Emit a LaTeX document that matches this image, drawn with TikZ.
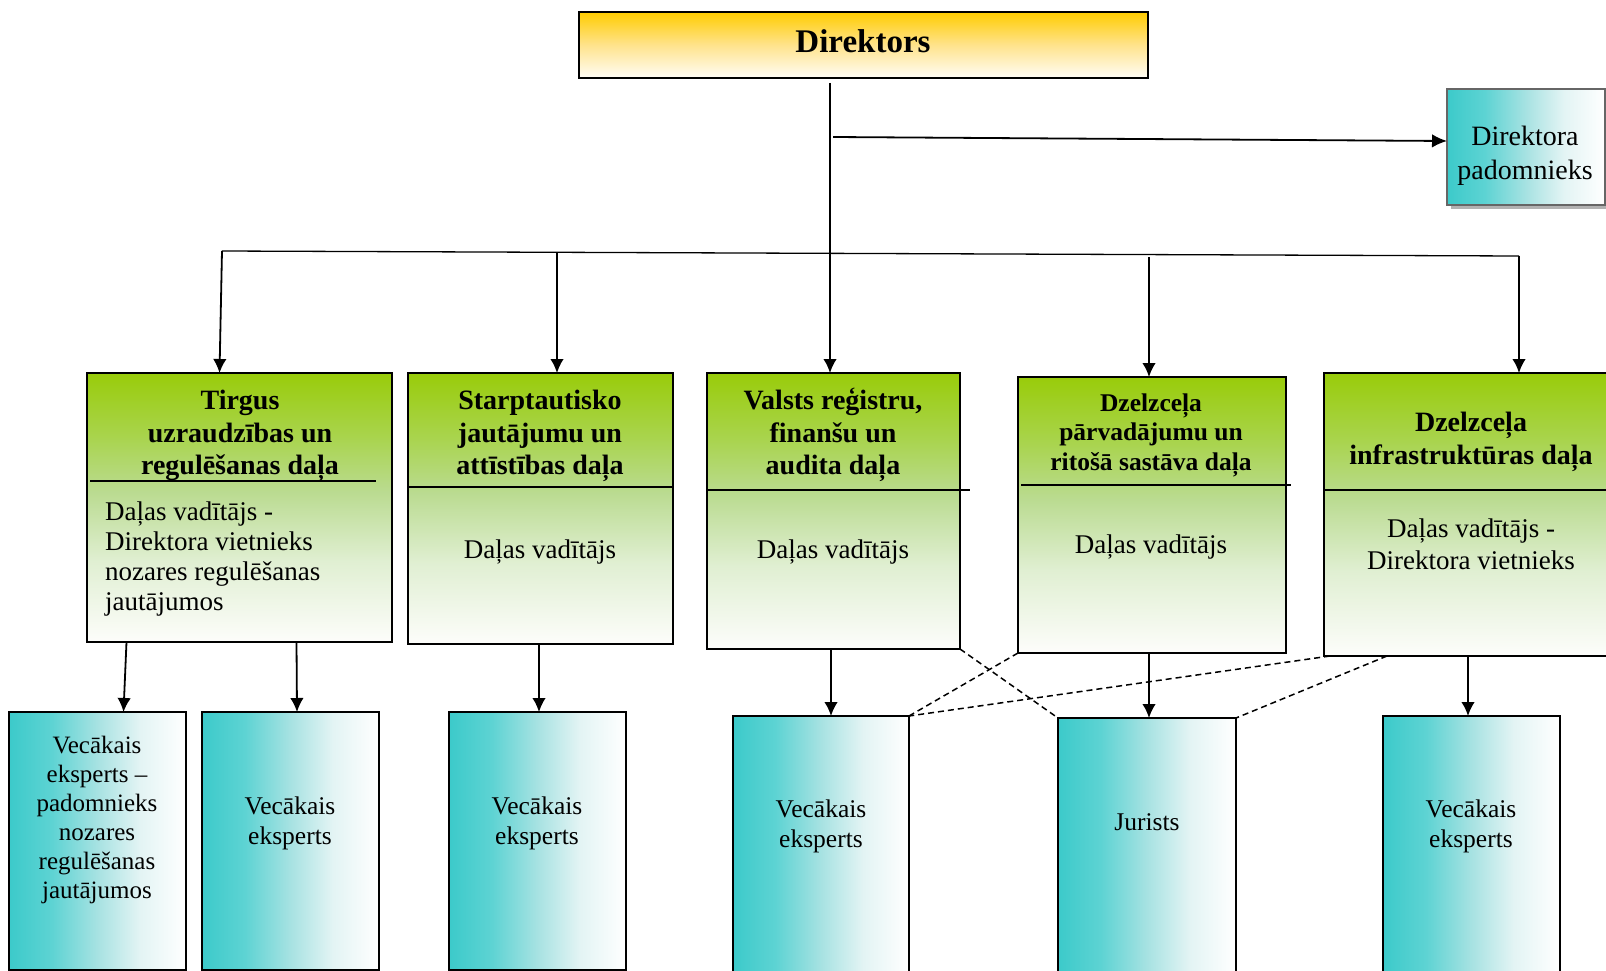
\documentclass[tikz,border=0pt]{standalone}
\usepackage{fontspec}
\setmainfont{Liberation Serif}
\usetikzlibrary{arrows.meta,calc}
\definecolor{gtop}{HTML}{99CC0A}
\definecolor{gup}{HTML}{A9D44E}
\definecolor{gdiv}{HTML}{BADB90}
\definecolor{gmid}{HTML}{E0EFD2}
\definecolor{gbot}{HTML}{FDFDFB}
\definecolor{ytop}{HTML}{FFCC00}
\definecolor{ymid}{HTML}{FFE38C}
\definecolor{ybot}{HTML}{FFFDF6}
\definecolor{c0}{HTML}{3CCACA}
\definecolor{c1}{HTML}{5DD3D3}
\definecolor{c2}{HTML}{A7E2E2}
\definecolor{c3}{HTML}{E3F4F4}
\pgfdeclareverticalshading{gshade}{100bp}{color(0bp)=(gbot); color(25bp)=(gbot); color(40bp)=(gmid); color(53bp)=(gdiv); color(63bp)=(gup); color(75bp)=(gtop); color(100bp)=(gtop)}
\pgfdeclareverticalshading{yshade}{100bp}{color(0bp)=(ybot); color(25bp)=(ybot); color(50bp)=(ymid); color(75bp)=(ytop); color(100bp)=(ytop)}
\pgfdeclarehorizontalshading{cshade}{100bp}{color(0bp)=(c0); color(25bp)=(c0); color(37bp)=(c1); color(50bp)=(c2); color(62bp)=(c3); color(75bp)=(white); color(100bp)=(white)}
\tikzset{
  box/.style={draw=black, line width=1.8pt, inner sep=0pt, outer sep=0pt, anchor=north west},
  gbox/.style={box, shading=gshade},
  txt/.style={inner sep=0pt, align=center, font=\fontsize{27}{30}\selectfont},
  ttl/.style={inner sep=0pt, align=center, font=\bfseries\fontsize{28}{32.5}\selectfont},
  etxt/.style={inner sep=0pt, align=center, font=\fontsize{25.5}{30}\selectfont},
  arr/.style={line width=1.8pt, -{Latex[length=14pt,width=13.5pt]}},
  dsh/.style={line width=1.5pt, dash pattern=on 6pt off 4pt},
}
\begin{document}
\begin{tikzpicture}[x=1pt,y=-1pt]
\useasboundingbox (0,0) rectangle (1606,971);
% top
\node[box, shading=yshade, minimum width=569pt, minimum height=66pt] (dir) at (579,12) {};
\node[ttl, font=\bfseries\fontsize{33}{36}\selectfont] (dirt) at (863,41) {Direktors};
\fill[gray!60] (1451,93) rectangle (1609,209);
\node[box, shading=cshade, draw=gray!80!black, line width=1.5pt, minimum width=158pt, minimum height=116pt] (pad) at (1447,89) {};
\node[txt, font=\fontsize{28}{34}\selectfont] (padt) at (1525,156) {Direktora\\padomnieks};
% departments
\node[gbox, minimum width=305pt, minimum height=269pt] (t1) at (87,373) {};
\node[gbox, minimum width=265pt, minimum height=271pt] (t2) at (408,373) {};
\node[gbox, minimum width=253pt, minimum height=276pt] (t3) at (707,373) {};
\node[gbox, minimum width=268pt, minimum height=276pt] (t4) at (1018,377) {};
\node[gbox, minimum width=300pt, minimum height=283pt] (t5) at (1324,373) {};
\draw[line width=1.8pt] (90,481) -- (376,481);
\draw[line width=1.8pt] (408,487) -- (673,487);
\draw[line width=1.8pt] (707,490) -- (970,490);
\draw[line width=1.8pt] (1021,485) -- (1291,485);
\draw[line width=1.8pt] (1324,490) -- (1615,490);
\node[ttl] (t1t) at (240,436) {Tirgus\\uzraudzības un\\regulēšanas daļa};
\node[txt, align=left, anchor=west] (t1b) at (105,559) {Daļas vadītājs -\\Direktora vietnieks\\nozares regulēšanas\\jautājumos};
\node[ttl] (t2t) at (540,436) {Starptautisko\\jautājumu un\\attīstības daļa};
\node[txt] (t2b) at (540,552) {Daļas vadītājs};
\node[ttl] (t3t) at (833,435) {Valsts reģistru,\\finanšu un\\audita daļa};
\node[txt] (t3b) at (833,552) {Daļas vadītājs};
\node[ttl, font=\bfseries\fontsize{25.5}{29.5}\selectfont] (t4t) at (1151,435) {Dzelzceļa\\pārvadājumu un\\ritošā sastāva daļa};
\node[txt] (t4b) at (1151,547) {Daļas vadītājs};
\node[ttl] (t5t) at (1471,442) {Dzelzceļa\\infrastruktūras daļa};
\node[txt, font=\fontsize{27}{32}\selectfont] (t5b) at (1471,544) {Daļas vadītājs -\\Direktora vietnieks};
% experts
\node[box, shading=cshade, minimum width=177pt, minimum height=258pt] (e1) at (9,712) {};
\node[box, shading=cshade, minimum width=177pt, minimum height=258pt] (e2) at (202,712) {};
\node[box, shading=cshade, minimum width=177pt, minimum height=258pt] (e3) at (449,712) {};
\node[box, shading=cshade, minimum width=176pt, minimum height=280pt] (e4) at (733,716) {};
\node[box, shading=cshade, minimum width=178pt, minimum height=280pt] (jur) at (1058,718) {};
\node[box, shading=cshade, minimum width=177pt, minimum height=280pt] (e5) at (1383,716) {};
\node[etxt, font=\fontsize{25}{29}\selectfont] (e1t) at (97,820) {Vecākais\\eksperts –\\padomnieks\\nozares\\regulēšanas\\jautājumos};
\node[etxt] (e2t) at (290,823) {Vecākais\\eksperts};
\node[etxt] (e3t) at (537,823) {Vecākais\\eksperts};
\node[etxt] (e4t) at (821,826) {Vecākais\\eksperts};
\node[etxt] (jurt) at (1147,822) {Jurists};
\node[etxt] (e5t) at (1471,826) {Vecākais\\eksperts};
% connectors
\coordinate (d0) at (830,83);
\coordinate (p0) at (833,137);
\coordinate (bL) at (222,251);
\coordinate (bR) at (1519,256);
\coordinate (bB) at (557,252);
\coordinate (bD) at (1149,257);
\draw[arr] (d0) -- (d0 |- t3.north);
\draw[line width=1.8pt, -{Latex[length=15pt,width=13.5pt]}] (p0) -- ([yshift=6pt]pad.west);
\draw[line width=1.3pt] (bL) -- (bR);
\draw[arr] (bL) -- ([xshift=-20pt]t1.north);
\draw[arr] (bB) -- (bB |- t2.north);
\draw[arr] (bD) -- (bD |- t4.north);
\draw[arr] (bR) -- (bR |- t5.north);
\draw[arr] ([xshift=-113pt]t1.south) -- ([xshift=26pt]e1.north);
\draw[arr] ([xshift=57pt]t1.south) -- ([xshift=6.5pt]e2.north);
\draw[arr] ([xshift=-1.5pt]t2.south) -- ([xshift=-1.5pt]t2.south |- e3.north);
\draw[arr] ([xshift=-2.5pt]t3.south) -- ([xshift=-2.5pt]t3.south |- e4.north);
\draw[arr] ([xshift=-3pt]t4.south) -- ([xshift=-3pt]t4.south |- jur.north);
\draw[arr] ([xshift=-6pt]t5.south) -- ([xshift=-6pt]t5.south |- e5.north);
\draw[dsh] (t3.south east) -- (jur.north west);
\draw[dsh] (t4.south west) -- (e4.north east);
\draw[dsh] ([xshift=6pt]t5.south west) -- (e4.north east);
\draw[dsh] ([xshift=63pt]t5.south west) -- (jur.north east);
\end{tikzpicture}
\end{document}
